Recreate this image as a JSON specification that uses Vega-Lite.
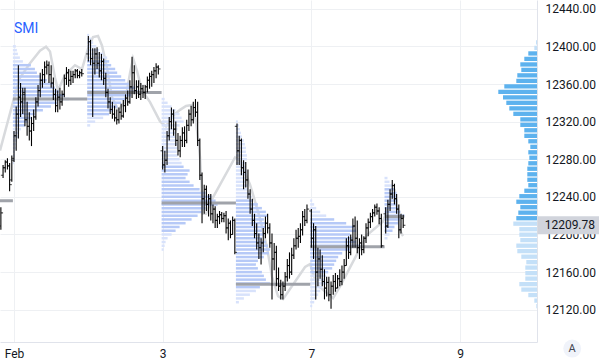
{
"$schema": "https://vega.github.io/schema/vega-lite/v6.json",
"width": 537, "height": 342,
"autosize": {"type": "none"},
"padding": {"left": 0, "top": 0, "right": 62, "bottom": 22},
"background": "white",
"config": {"view": {"stroke": null}, "font": "Roboto",
  "axis": {"gridColor": "#eef0f3", "domainColor": "#e0e3eb", "ticks": false, "labelColor": "#131722", "labelFontSize": 12, "labelFont": "Roboto", "labelOverlap": false, "labelBound": false}},
"datasets": {
"bars": [
{"t":-6,"o":12209,"h":12229,"l":12205,"c":12223},
{"t":-5,"o":12263,"h":12274,"l":12260,"c":12271},
{"t":-4,"o":12271,"h":12279,"l":12266,"c":12277},
{"t":-3,"o":12277,"h":12281,"l":12269,"c":12273},
{"t":-2,"o":12273,"h":12276,"l":12246,"c":12253},
{"t":-1,"o":12258,"h":12284,"l":12256,"c":12279},
{"t":0,"o":12281,"h":12310,"l":12277,"c":12305},
{"t":1,"o":12305,"h":12336,"l":12289,"c":12328},
{"t":2,"o":12328,"h":12380,"l":12302,"c":12346},
{"t":3,"o":12346,"h":12361,"l":12325,"c":12341},
{"t":4,"o":12341,"h":12356,"l":12328,"c":12351},
{"t":5,"o":12349,"h":12356,"l":12315,"c":12322},
{"t":6,"o":12322,"h":12341,"l":12305,"c":12315},
{"t":7,"o":12315,"h":12330,"l":12300,"c":12310},
{"t":8,"o":12310,"h":12325,"l":12294,"c":12318},
{"t":9,"o":12318,"h":12333,"l":12310,"c":12325},
{"t":10,"o":12325,"h":12346,"l":12322,"c":12341},
{"t":11,"o":12341,"h":12359,"l":12336,"c":12353},
{"t":12,"o":12353,"h":12372,"l":12346,"c":12364},
{"t":13,"o":12364,"h":12376,"l":12356,"c":12370},
{"t":14,"o":12370,"h":12384,"l":12361,"c":12378},
{"t":15,"o":12378,"h":12385,"l":12370,"c":12380},
{"t":16,"o":12380,"h":12384,"l":12361,"c":12370},
{"t":17,"o":12370,"h":12380,"l":12356,"c":12361},
{"t":18,"o":12361,"h":12367,"l":12343,"c":12349},
{"t":19,"o":12349,"h":12355,"l":12330,"c":12337},
{"t":20,"o":12337,"h":12353,"l":12330,"c":12346},
{"t":21,"o":12346,"h":12356,"l":12333,"c":12341},
{"t":22,"o":12341,"h":12353,"l":12337,"c":12349},
{"t":23,"o":12349,"h":12370,"l":12346,"c":12366},
{"t":24,"o":12366,"h":12378,"l":12359,"c":12372},
{"t":25,"o":12372,"h":12376,"l":12357,"c":12364},
{"t":26,"o":12364,"h":12374,"l":12359,"c":12368},
{"t":27,"o":12368,"h":12374,"l":12361,"c":12370},
{"t":28,"o":12370,"h":12376,"l":12366,"c":12374},
{"t":29,"o":12374,"h":12376,"l":12366,"c":12369},
{"t":30,"o":12369,"h":12374,"l":12366,"c":12372},
{"t":31,"o":12372,"h":12376,"l":12368,"c":12371},
{"t":34,"o":12392,"h":12411,"l":12384,"c":12405},
{"t":35,"o":12405,"h":12407,"l":12380,"c":12387},
{"t":36,"o":12387,"h":12398,"l":12325,"c":12382},
{"t":37,"o":12382,"h":12398,"l":12370,"c":12392},
{"t":38,"o":12392,"h":12399,"l":12376,"c":12382},
{"t":39,"o":12382,"h":12394,"l":12367,"c":12374},
{"t":40,"o":12374,"h":12392,"l":12364,"c":12384},
{"t":41,"o":12384,"h":12387,"l":12359,"c":12366},
{"t":42,"o":12366,"h":12372,"l":12346,"c":12351},
{"t":43,"o":12351,"h":12355,"l":12334,"c":12341},
{"t":44,"o":12341,"h":12346,"l":12328,"c":12333},
{"t":45,"o":12333,"h":12341,"l":12323,"c":12328},
{"t":46,"o":12328,"h":12337,"l":12320,"c":12324},
{"t":47,"o":12324,"h":12333,"l":12317,"c":12322},
{"t":48,"o":12322,"h":12335,"l":12318,"c":12330},
{"t":49,"o":12330,"h":12339,"l":12322,"c":12326},
{"t":50,"o":12326,"h":12343,"l":12324,"c":12337},
{"t":51,"o":12337,"h":12349,"l":12330,"c":12345},
{"t":52,"o":12345,"h":12353,"l":12337,"c":12341},
{"t":53,"o":12341,"h":12364,"l":12339,"c":12357},
{"t":54,"o":12357,"h":12389,"l":12345,"c":12372},
{"t":55,"o":12372,"h":12380,"l":12349,"c":12353},
{"t":56,"o":12353,"h":12364,"l":12344,"c":12357},
{"t":57,"o":12357,"h":12364,"l":12345,"c":12349},
{"t":58,"o":12349,"h":12361,"l":12343,"c":12355},
{"t":59,"o":12355,"h":12359,"l":12345,"c":12351},
{"t":60,"o":12351,"h":12359,"l":12344,"c":12357},
{"t":61,"o":12357,"h":12368,"l":12351,"c":12364},
{"t":62,"o":12364,"h":12372,"l":12355,"c":12368},
{"t":63,"o":12368,"h":12374,"l":12357,"c":12370},
{"t":64,"o":12370,"h":12378,"l":12361,"c":12374},
{"t":65,"o":12374,"h":12382,"l":12366,"c":12378},
{"t":66,"o":12378,"h":12380,"l":12370,"c":12376},
{"t":68,"o":12289,"h":12294,"l":12269,"c":12274},
{"t":69,"o":12274,"h":12289,"l":12266,"c":12279},
{"t":70,"o":12279,"h":12310,"l":12274,"c":12305},
{"t":71,"o":12305,"h":12325,"l":12300,"c":12320},
{"t":72,"o":12320,"h":12335,"l":12312,"c":12328},
{"t":73,"o":12328,"h":12333,"l":12305,"c":12312},
{"t":74,"o":12312,"h":12320,"l":12294,"c":12300},
{"t":75,"o":12300,"h":12308,"l":12284,"c":12289},
{"t":76,"o":12289,"h":12305,"l":12282,"c":12300},
{"t":77,"o":12300,"h":12314,"l":12293,"c":12308},
{"t":78,"o":12308,"h":12315,"l":12293,"c":12300},
{"t":79,"o":12300,"h":12322,"l":12297,"c":12316},
{"t":80,"o":12316,"h":12333,"l":12310,"c":12328},
{"t":81,"o":12328,"h":12337,"l":12315,"c":12322},
{"t":82,"o":12322,"h":12341,"l":12318,"c":12335},
{"t":83,"o":12335,"h":12344,"l":12325,"c":12330},
{"t":84,"o":12330,"h":12341,"l":12294,"c":12300},
{"t":85,"o":12300,"h":12302,"l":12258,"c":12263},
{"t":86,"o":12263,"h":12266,"l":12212,"c":12238},
{"t":87,"o":12238,"h":12253,"l":12222,"c":12248},
{"t":88,"o":12248,"h":12252,"l":12225,"c":12232},
{"t":89,"o":12232,"h":12243,"l":12219,"c":12238},
{"t":90,"o":12238,"h":12243,"l":12215,"c":12222},
{"t":91,"o":12222,"h":12232,"l":12212,"c":12227},
{"t":92,"o":12227,"h":12230,"l":12207,"c":12215},
{"t":93,"o":12215,"h":12222,"l":12207,"c":12219},
{"t":94,"o":12219,"h":12225,"l":12211,"c":12221},
{"t":95,"o":12221,"h":12224,"l":12213,"c":12217},
{"t":96,"o":12217,"h":12223,"l":12213,"c":12220},
{"t":97,"o":12220,"h":12225,"l":12201,"c":12207},
{"t":98,"o":12207,"h":12217,"l":12194,"c":12212},
{"t":99,"o":12212,"h":12215,"l":12196,"c":12200},
{"t":100,"o":12200,"h":12219,"l":12200,"c":12215},
{"t":101,"o":12215,"h":12217,"l":12179,"c":12181},
{"t":102,"o":12315,"h":12318,"l":12274,"c":12289},
{"t":103,"o":12289,"h":12305,"l":12274,"c":12300},
{"t":104,"o":12300,"h":12302,"l":12263,"c":12271},
{"t":105,"o":12271,"h":12279,"l":12248,"c":12266},
{"t":106,"o":12266,"h":12277,"l":12250,"c":12258},
{"t":107,"o":12258,"h":12269,"l":12238,"c":12243},
{"t":108,"o":12243,"h":12248,"l":12222,"c":12227},
{"t":109,"o":12227,"h":12238,"l":12209,"c":12215},
{"t":110,"o":12215,"h":12222,"l":12196,"c":12201},
{"t":111,"o":12201,"h":12212,"l":12184,"c":12191},
{"t":112,"o":12191,"h":12201,"l":12174,"c":12186},
{"t":113,"o":12186,"h":12196,"l":12168,"c":12191},
{"t":114,"o":12191,"h":12207,"l":12181,"c":12201},
{"t":115,"o":12201,"h":12219,"l":12196,"c":12212},
{"t":116,"o":12212,"h":12222,"l":12201,"c":12207},
{"t":117,"o":12207,"h":12212,"l":12186,"c":12191},
{"t":118,"o":12191,"h":12201,"l":12131,"c":12174},
{"t":119,"o":12174,"h":12191,"l":12162,"c":12181},
{"t":120,"o":12181,"h":12188,"l":12145,"c":12153},
{"t":121,"o":12153,"h":12165,"l":12140,"c":12145},
{"t":122,"o":12145,"h":12152,"l":12131,"c":12136},
{"t":123,"o":12136,"h":12150,"l":12131,"c":12145},
{"t":124,"o":12145,"h":12160,"l":12140,"c":12155},
{"t":125,"o":12155,"h":12174,"l":12150,"c":12167},
{"t":126,"o":12167,"h":12181,"l":12153,"c":12160},
{"t":127,"o":12160,"h":12186,"l":12157,"c":12178},
{"t":128,"o":12178,"h":12196,"l":12174,"c":12188},
{"t":129,"o":12188,"h":12205,"l":12184,"c":12196},
{"t":130,"o":12196,"h":12207,"l":12186,"c":12198},
{"t":131,"o":12198,"h":12212,"l":12191,"c":12205},
{"t":132,"o":12205,"h":12225,"l":12199,"c":12219},
{"t":133,"o":12219,"h":12227,"l":12209,"c":12215},
{"t":134,"o":12215,"h":12232,"l":12212,"c":12227},
{"t":136,"o":12225,"h":12227,"l":12186,"c":12196},
{"t":137,"o":12196,"h":12212,"l":12174,"c":12205},
{"t":138,"o":12205,"h":12209,"l":12131,"c":12160},
{"t":139,"o":12160,"h":12186,"l":12145,"c":12174},
{"t":140,"o":12174,"h":12184,"l":12153,"c":12163},
{"t":141,"o":12163,"h":12178,"l":12145,"c":12150},
{"t":142,"o":12150,"h":12163,"l":12131,"c":12143},
{"t":143,"o":12143,"h":12155,"l":12134,"c":12149},
{"t":144,"o":12149,"h":12155,"l":12129,"c":12136},
{"t":145,"o":12136,"h":12150,"l":12121,"c":12145},
{"t":146,"o":12145,"h":12157,"l":12136,"c":12150},
{"t":147,"o":12150,"h":12159,"l":12139,"c":12143},
{"t":148,"o":12143,"h":12157,"l":12143,"c":12153},
{"t":149,"o":12153,"h":12163,"l":12145,"c":12150},
{"t":150,"o":12150,"h":12167,"l":12146,"c":12160},
{"t":151,"o":12160,"h":12174,"l":12153,"c":12167},
{"t":152,"o":12167,"h":12196,"l":12167,"c":12188},
{"t":153,"o":12188,"h":12198,"l":12174,"c":12181},
{"t":154,"o":12181,"h":12200,"l":12178,"c":12194},
{"t":155,"o":12194,"h":12217,"l":12186,"c":12209},
{"t":156,"o":12209,"h":12219,"l":12186,"c":12196},
{"t":157,"o":12196,"h":12215,"l":12180,"c":12186},
{"t":158,"o":12186,"h":12196,"l":12174,"c":12191},
{"t":159,"o":12191,"h":12200,"l":12178,"c":12184},
{"t":160,"o":12184,"h":12198,"l":12180,"c":12196},
{"t":161,"o":12196,"h":12212,"l":12191,"c":12207},
{"t":162,"o":12207,"h":12217,"l":12198,"c":12213},
{"t":163,"o":12213,"h":12223,"l":12207,"c":12219},
{"t":164,"o":12219,"h":12227,"l":12213,"c":12223},
{"t":165,"o":12223,"h":12232,"l":12219,"c":12229},
{"t":166,"o":12229,"h":12233,"l":12221,"c":12225},
{"t":167,"o":12225,"h":12229,"l":12211,"c":12217},
{"t":168,"o":12217,"h":12222,"l":12186,"c":12188},
{"t":170,"o":12222,"h":12229,"l":12201,"c":12209},
{"t":171,"o":12209,"h":12237,"l":12207,"c":12232},
{"t":172,"o":12232,"h":12248,"l":12225,"c":12243},
{"t":173,"o":12243,"h":12258,"l":12238,"c":12252},
{"t":174,"o":12252,"h":12254,"l":12232,"c":12238},
{"t":175,"o":12238,"h":12243,"l":12222,"c":12227},
{"t":176,"o":12227,"h":12232,"l":12196,"c":12205},
{"t":177,"o":12205,"h":12222,"l":12201,"c":12217},
{"t":178,"o":12217,"h":12221,"l":12207,"c":12209.78}
],
"prof": [
{"s":1,"p":12400,"v":3},{"s":1,"p":12396,"v":4},{"s":1,"p":12392,"v":5},{"s":1,"p":12388,"v":7},{"s":1,"p":12384,"v":10},{"s":1,"p":12380,"v":18},{"s":1,"p":12376,"v":22},{"s":1,"p":12372,"v":24},{"s":1,"p":12368,"v":28},{"s":1,"p":12364,"v":34},{"s":1,"p":12360,"v":40},{"s":1,"p":12356,"v":42},{"s":1,"p":12352,"v":46},{"s":1,"p":12348,"v":52},{"s":1,"p":12344,"v":56},{"s":1,"p":12340,"v":44},{"s":1,"p":12336,"v":38},{"s":1,"p":12332,"v":30},{"s":1,"p":12328,"v":22},{"s":1,"p":12324,"v":18},{"s":1,"p":12320,"v":15},{"s":1,"p":12316,"v":12},{"s":1,"p":12312,"v":8},{"s":1,"p":12308,"v":6},{"s":1,"p":12304,"v":5},{"s":1,"p":12300,"v":4},{"s":1,"p":12296,"v":3},{"s":1,"p":12292,"v":3},{"s":1,"p":12288,"v":2},{"s":1,"p":12284,"v":2},{"s":1,"p":12280,"v":2},{"s":1,"p":12276,"v":1},
{"s":2,"p":12412,"v":2},{"s":2,"p":12408,"v":4},{"s":2,"p":12404,"v":6},{"s":2,"p":12400,"v":9},{"s":2,"p":12396,"v":12},{"s":2,"p":12392,"v":16},{"s":2,"p":12388,"v":20},{"s":2,"p":12384,"v":22},{"s":2,"p":12380,"v":24},{"s":2,"p":12376,"v":28},{"s":2,"p":12372,"v":30},{"s":2,"p":12368,"v":34},{"s":2,"p":12364,"v":38},{"s":2,"p":12360,"v":42},{"s":2,"p":12356,"v":48},{"s":2,"p":12352,"v":52},{"s":2,"p":12348,"v":44},{"s":2,"p":12344,"v":38},{"s":2,"p":12340,"v":34},{"s":2,"p":12336,"v":30},{"s":2,"p":12332,"v":26},{"s":2,"p":12328,"v":22},{"s":2,"p":12324,"v":16},{"s":2,"p":12320,"v":8},{"s":2,"p":12316,"v":3},
{"s":3,"p":12344,"v":3},{"s":3,"p":12340,"v":6},{"s":3,"p":12336,"v":10},{"s":3,"p":12332,"v":14},{"s":3,"p":12328,"v":18},{"s":3,"p":12324,"v":20},{"s":3,"p":12320,"v":22},{"s":3,"p":12316,"v":18},{"s":3,"p":12312,"v":16},{"s":3,"p":12308,"v":14},{"s":3,"p":12304,"v":14},{"s":3,"p":12300,"v":15},{"s":3,"p":12296,"v":16},{"s":3,"p":12292,"v":16},{"s":3,"p":12288,"v":15},{"s":3,"p":12284,"v":16},{"s":3,"p":12280,"v":18},{"s":3,"p":12276,"v":20},{"s":3,"p":12272,"v":22},{"s":3,"p":12268,"v":28},{"s":3,"p":12264,"v":26},{"s":3,"p":12260,"v":24},{"s":3,"p":12256,"v":28},{"s":3,"p":12252,"v":32},{"s":3,"p":12248,"v":38},{"s":3,"p":12244,"v":44},{"s":3,"p":12240,"v":50},{"s":3,"p":12236,"v":54},{"s":3,"p":12232,"v":56},{"s":3,"p":12228,"v":44},{"s":3,"p":12224,"v":40},{"s":3,"p":12220,"v":36},{"s":3,"p":12216,"v":30},{"s":3,"p":12212,"v":24},{"s":3,"p":12208,"v":18},{"s":3,"p":12204,"v":14},{"s":3,"p":12200,"v":10},{"s":3,"p":12196,"v":6},{"s":3,"p":12192,"v":4},{"s":3,"p":12188,"v":3},{"s":3,"p":12184,"v":2},
{"s":4,"p":12320,"v":2},{"s":4,"p":12316,"v":3},{"s":4,"p":12312,"v":4},{"s":4,"p":12308,"v":5},{"s":4,"p":12304,"v":6},{"s":4,"p":12300,"v":8},{"s":4,"p":12296,"v":9},{"s":4,"p":12292,"v":10},{"s":4,"p":12288,"v":10},{"s":4,"p":12284,"v":11},{"s":4,"p":12280,"v":11},{"s":4,"p":12276,"v":10},{"s":4,"p":12272,"v":10},{"s":4,"p":12268,"v":11},{"s":4,"p":12264,"v":11},{"s":4,"p":12260,"v":9},{"s":4,"p":12256,"v":10},{"s":4,"p":12252,"v":12},{"s":4,"p":12248,"v":12},{"s":4,"p":12244,"v":14},{"s":4,"p":12240,"v":16},{"s":4,"p":12236,"v":17},{"s":4,"p":12232,"v":22},{"s":4,"p":12228,"v":26},{"s":4,"p":12224,"v":30},{"s":4,"p":12220,"v":32},{"s":4,"p":12216,"v":28},{"s":4,"p":12212,"v":29},{"s":4,"p":12208,"v":30},{"s":4,"p":12204,"v":26},{"s":4,"p":12200,"v":28},{"s":4,"p":12196,"v":26},{"s":4,"p":12192,"v":30},{"s":4,"p":12188,"v":32},{"s":4,"p":12184,"v":34},{"s":4,"p":12180,"v":33},{"s":4,"p":12176,"v":28},{"s":4,"p":12172,"v":22},{"s":4,"p":12168,"v":20},{"s":4,"p":12164,"v":22},{"s":4,"p":12160,"v":26},{"s":4,"p":12156,"v":28},{"s":4,"p":12152,"v":30},{"s":4,"p":12148,"v":34},{"s":4,"p":12144,"v":24},{"s":4,"p":12140,"v":20},{"s":4,"p":12136,"v":14},{"s":4,"p":12132,"v":8},{"s":4,"p":12128,"v":3},
{"s":5,"p":12236,"v":2},{"s":5,"p":12232,"v":4},{"s":5,"p":12228,"v":6},{"s":5,"p":12224,"v":10},{"s":5,"p":12220,"v":16},{"s":5,"p":12216,"v":24},{"s":5,"p":12212,"v":36},{"s":5,"p":12208,"v":44},{"s":5,"p":12204,"v":46},{"s":5,"p":12200,"v":40},{"s":5,"p":12196,"v":42},{"s":5,"p":12192,"v":46},{"s":5,"p":12188,"v":50},{"s":5,"p":12184,"v":40},{"s":5,"p":12180,"v":32},{"s":5,"p":12176,"v":28},{"s":5,"p":12172,"v":26},{"s":5,"p":12168,"v":24},{"s":5,"p":12164,"v":22},{"s":5,"p":12160,"v":18},{"s":5,"p":12156,"v":16},{"s":5,"p":12152,"v":14},{"s":5,"p":12148,"v":16},{"s":5,"p":12144,"v":12},{"s":5,"p":12140,"v":10},{"s":5,"p":12136,"v":8},{"s":5,"p":12132,"v":6},{"s":5,"p":12128,"v":4},{"s":5,"p":12124,"v":2},
{"s":6,"p":12260,"v":3},{"s":6,"p":12256,"v":5},{"s":6,"p":12252,"v":8},{"s":6,"p":12248,"v":10},{"s":6,"p":12244,"v":12},{"s":6,"p":12240,"v":12},{"s":6,"p":12236,"v":13},{"s":6,"p":12232,"v":12},{"s":6,"p":12228,"v":14},{"s":6,"p":12224,"v":16},{"s":6,"p":12220,"v":20},{"s":6,"p":12216,"v":16},{"s":6,"p":12212,"v":14},{"s":6,"p":12208,"v":10},{"s":6,"p":12204,"v":8},{"s":6,"p":12200,"v":5},{"s":6,"p":12196,"v":3}
],
"vp": [
{"p":12404.2,"v":1},{"p":12398.4,"v":2.7},{"p":12392.5,"v":8.7},{"p":12386.7,"v":12.7},{"p":12380.8,"v":16.7},{"p":12375.0,"v":15.7},{"p":12369.2,"v":19.7},{"p":12363.3,"v":20.7},{"p":12357.5,"v":32.7},{"p":12351.6,"v":38.7},{"p":12345.8,"v":34},{"p":12340.0,"v":30.7},{"p":12334.1,"v":27.7},{"p":12328.3,"v":23.7},{"p":12322.4,"v":16.7},{"p":12316.6,"v":16.7},{"p":12310.8,"v":12.7},{"p":12304.9,"v":12.7},{"p":12299.1,"v":8.7},{"p":12293.2,"v":6.7},{"p":12287.4,"v":8.7},{"p":12281.6,"v":7.7},{"p":12275.7,"v":8.7},{"p":12269.9,"v":9.7},{"p":12264.0,"v":9.7},{"p":12258.2,"v":9.7},{"p":12252.4,"v":8.7},{"p":12246.5,"v":12.7},{"p":12240.7,"v":17.7},{"p":12234.8,"v":20.7},{"p":12229.0,"v":16.7},{"p":12223.2,"v":18.7},{"p":12217.3,"v":20.7},{"p":12211.5,"v":23.7},{"p":12205.6,"v":17.7},{"p":12199.8,"v":17.7},{"p":12194.0,"v":16.7},{"p":12188.1,"v":20.7},{"p":12182.3,"v":19.7},{"p":12176.4,"v":15.7},{"p":12170.6,"v":10.7},{"p":12164.8,"v":11.7},{"p":12158.9,"v":11.7},{"p":12153.1,"v":11.7},{"p":12147.2,"v":17.7},{"p":12141.4,"v":15.7},{"p":12135.6,"v":8.7},{"p":12129.7,"v":2.7},{"p":12123.9,"v":0.7}
],
"poc": [
{"a":-34.5,"b":-0.5,"p":12236},{"a":-0.5,"b":33.5,"p":12344},{"a":33.5,"b":67.5,"p":12351},{"a":67.5,"b":101.5,"p":12233.5},{"a":101.5,"b":135.5,"p":12147},{"a":135.5,"b":169.5,"p":12187},{"a":169.5,"b":178.5,"p":12219}
],
"gl": [
{"t":-6.4,"p":12289.2},{"t":-0.46,"p":12340.8},{"t":2.74,"p":12366.6},{"t":7.32,"p":12382.1},{"t":11.89,"p":12395.5},{"t":14.64,"p":12399.6},{"t":16.47,"p":12394.5},{"t":18.76,"p":12366.6},{"t":20.13,"p":12353.2},{"t":23.33,"p":12369.7},{"t":27.9,"p":12380},{"t":31.1,"p":12375.9},{"t":33.85,"p":12397.6},{"t":36.14,"p":12409.9},{"t":38.43,"p":12411},{"t":40.26,"p":12400.7},{"t":42.54,"p":12376.9},{"t":44.83,"p":12346},{"t":47.58,"p":12332.5},{"t":50.78,"p":12340.8},{"t":53.07,"p":12371.8},{"t":54.44,"p":12387.2},{"t":56.27,"p":12373.8},{"t":58.55,"p":12353.2},{"t":62.21,"p":12340.8},{"t":66.79,"p":12320.2},{"t":69.53,"p":12315},{"t":72.28,"p":12325.3},{"t":75.94,"p":12332.5},{"t":78.68,"p":12336.7},{"t":81.43,"p":12337.7},{"t":83.26,"p":12320.2},{"t":85.09,"p":12282},{"t":86.46,"p":12222.1},{"t":87.83,"p":12222.1},{"t":90.58,"p":12237.6},{"t":101.1,"p":12282},{"t":103.39,"p":12278.9},{"t":107.96,"p":12253.1},{"t":112.53,"p":12217},{"t":115.74,"p":12186},{"t":118.02,"p":12155},{"t":120.77,"p":12134.4},{"t":123.06,"p":12131.3},{"t":133.12,"p":12165.4},{"t":135.41,"p":12168.5},{"t":138.61,"p":12146.8},{"t":143.18,"p":12137.5},{"t":145.93,"p":12132.3},{"t":149.13,"p":12144.7},{"t":151.42,"p":12155},{"t":161.48,"p":12199.4},{"t":168.8,"p":12213.9},{"t":172,"p":12234.5},{"t":174.29,"p":12244.8},{"t":176.58,"p":12203.5},{"t":177.96,"p":12198.4}
],
"marks": [
{"label": "SMI", "t": 0, "p": 12418}
],
"lastp": [
{"t": 239.4, "tt": 242.7, "last": 12209.78}
],
"abtn": [
{"k": "A", "t": 255.3, "p": 12078.7}
]
},
"resolve": {"scale": {"x": "independent"}},
"layer": [
{"data": {"name": "gl"}, "mark": {"type": "line", "color": "#d8dadd", "strokeWidth": 2.5},
 "encoding": {
  "x": {"field": "t", "type": "quantitative", "scale": {"domain": [-6.4, 239.2], "nice": false, "zero": false},
    "axis": {"values": [0, 68, 136, 204], "labelExpr": "datum.value == 0 ? 'Feb' : datum.value == 68 ? '3' : datum.value == 136 ? '7' : '9'", "grid": true, "labelPadding": 6, "labelFlush": false, "title": null}},
  "y": {"field": "p", "type": "quantitative", "scale": {"domain": [12091, 12444], "nice": false, "zero": false},
    "axis": {"orient": "right", "values": [12120, 12160, 12200, 12240, 12280, 12320, 12360, 12400, 12440], "format": ".2f", "grid": true, "labelPadding": 8, "title": null}}}},
{"data": {"name": "prof"}, "transform": [{"filter": "datum.s == 1"}], "mark": {"type": "bar", "orient": "horizontal", "size": 2.5},
 "encoding": {"y": {"field": "p", "type": "quantitative", "scale": {"domain": [12091, 12444], "nice": false, "zero": false}, "axis": {"orient": "right", "values": [12120, 12160, 12200, 12240, 12280, 12320, 12360, 12400, 12440], "format": ".2f", "grid": true, "labelPadding": 8, "title": null}},
  "x": {"field": "v", "type": "quantitative", "scale": {"domain": [-12.9, 524.1], "nice": false, "zero": false}, "axis": null},
  "color": {"condition": {"test": "datum.p >= 12316 && datum.p <= 12380", "value": "#b6c9f7"}, "value": "#d8e2fb"}}},
{"data": {"name": "prof"}, "transform": [{"filter": "datum.s == 2"}], "mark": {"type": "bar", "orient": "horizontal", "size": 2.5},
 "encoding": {"y": {"field": "p", "type": "quantitative", "scale": {"domain": [12091, 12444], "nice": false, "zero": false}, "axis": {"orient": "right", "values": [12120, 12160, 12200, 12240, 12280, 12320, 12360, 12400, 12440], "format": ".2f", "grid": true, "labelPadding": 8, "title": null}},
  "x": {"field": "v", "type": "quantitative", "scale": {"domain": [-87.2, 449.8], "nice": false, "zero": false}, "axis": null},
  "color": {"condition": {"test": "datum.p >= 12328 && datum.p <= 12384", "value": "#b6c9f7"}, "value": "#d8e2fb"}}},
{"data": {"name": "prof"}, "transform": [{"filter": "datum.s == 3"}], "mark": {"type": "bar", "orient": "horizontal", "size": 2.5},
 "encoding": {"y": {"field": "p", "type": "quantitative", "scale": {"domain": [12091, 12444], "nice": false, "zero": false}, "axis": {"orient": "right", "values": [12120, 12160, 12200, 12240, 12280, 12320, 12360, 12400, 12440], "format": ".2f", "grid": true, "labelPadding": 8, "title": null}},
  "x": {"field": "v", "type": "quantitative", "scale": {"domain": [-161.6, 375.4], "nice": false, "zero": false}, "axis": null},
  "color": {"condition": {"test": "datum.p >= 12204 && datum.p <= 12272", "value": "#b6c9f7"}, "value": "#d8e2fb"}}},
{"data": {"name": "prof"}, "transform": [{"filter": "datum.s == 4"}], "mark": {"type": "bar", "orient": "horizontal", "size": 2.5},
 "encoding": {"y": {"field": "p", "type": "quantitative", "scale": {"domain": [12091, 12444], "nice": false, "zero": false}, "axis": {"orient": "right", "values": [12120, 12160, 12200, 12240, 12280, 12320, 12360, 12400, 12440], "format": ".2f", "grid": true, "labelPadding": 8, "title": null}},
  "x": {"field": "v", "type": "quantitative", "scale": {"domain": [-235.9, 301.1], "nice": false, "zero": false}, "axis": null},
  "color": {"condition": {"test": "datum.p >= 12144 && datum.p <= 12236", "value": "#b6c9f7"}, "value": "#d8e2fb"}}},
{"data": {"name": "prof"}, "transform": [{"filter": "datum.s == 5"}], "mark": {"type": "bar", "orient": "horizontal", "size": 2.5},
 "encoding": {"y": {"field": "p", "type": "quantitative", "scale": {"domain": [12091, 12444], "nice": false, "zero": false}, "axis": {"orient": "right", "values": [12120, 12160, 12200, 12240, 12280, 12320, 12360, 12400, 12440], "format": ".2f", "grid": true, "labelPadding": 8, "title": null}},
  "x": {"field": "v", "type": "quantitative", "scale": {"domain": [-310.2, 226.8], "nice": false, "zero": false}, "axis": null},
  "color": {"condition": {"test": "datum.p >= 12160 && datum.p <= 12216", "value": "#b6c9f7"}, "value": "#d8e2fb"}}},
{"data": {"name": "prof"}, "transform": [{"filter": "datum.s == 6"}], "mark": {"type": "bar", "orient": "horizontal", "size": 2.5},
 "encoding": {"y": {"field": "p", "type": "quantitative", "scale": {"domain": [12091, 12444], "nice": false, "zero": false}, "axis": {"orient": "right", "values": [12120, 12160, 12200, 12240, 12280, 12320, 12360, 12400, 12440], "format": ".2f", "grid": true, "labelPadding": 8, "title": null}},
  "x": {"field": "v", "type": "quantitative", "scale": {"domain": [-384.5, 152.5], "nice": false, "zero": false}, "axis": null},
  "color": {"condition": {"test": "datum.p >= 12204 && datum.p <= 12248", "value": "#b6c9f7"}, "value": "#d8e2fb"}}},
{"data": {"name": "vp"}, "mark": {"type": "bar", "orient": "horizontal", "size": 4.3},
 "encoding": {"y": {"field": "p", "type": "quantitative", "scale": {"domain": [12091, 12444], "nice": false, "zero": false}, "axis": {"orient": "right", "values": [12120, 12160, 12200, 12240, 12280, 12320, 12360, 12400, 12440], "format": ".2f", "grid": true, "labelPadding": 8, "title": null}},
  "x": {"field": "v", "type": "quantitative", "scale": {"domain": [0, 537], "reverse": true, "nice": false, "zero": true}, "axis": null},
  "color": {"condition": {"test": "datum.p > 12214 && datum.p < 12396", "value": "#5db2ee"}, "value": "#c4e0f8"}}},
{"data": {"name": "poc"}, "mark": {"type": "rule", "color": "#a0a3aa", "strokeWidth": 3, "clip": true},
 "encoding": {"x": {"field": "a", "type": "quantitative", "scale": {"domain": [-6.4, 239.2], "nice": false, "zero": false}, "axis": null}, "x2": {"field": "b"},
  "y": {"field": "p", "type": "quantitative", "scale": {"domain": [12091, 12444], "nice": false, "zero": false}, "axis": {"orient": "right", "values": [12120, 12160, 12200, 12240, 12280, 12320, 12360, 12400, 12440], "format": ".2f", "grid": true, "labelPadding": 8, "title": null}}}},
{"data": {"name": "bars"}, "mark": {"type": "rule", "color": "#000000", "strokeWidth": 1.1},
 "encoding": {"x": {"field": "t", "type": "quantitative", "scale": {"domain": [-6.4, 239.2], "nice": false, "zero": false}, "axis": null},
  "y": {"field": "l", "type": "quantitative", "scale": {"domain": [12091, 12444], "nice": false, "zero": false}, "axis": {"orient": "right", "values": [12120, 12160, 12200, 12240, 12280, 12320, 12360, 12400, 12440], "format": ".2f", "grid": true, "labelPadding": 8, "title": null}}, "y2": {"field": "h"}}},
{"data": {"name": "bars"}, "mark": {"type": "tick", "orient": "horizontal", "color": "#000000", "size": 2.2, "thickness": 1.1, "xOffset": -1.1},
 "encoding": {"x": {"field": "t", "type": "quantitative", "scale": {"domain": [-6.4, 239.2], "nice": false, "zero": false}, "axis": null},
  "y": {"field": "o", "type": "quantitative", "scale": {"domain": [12091, 12444], "nice": false, "zero": false}, "axis": {"orient": "right", "values": [12120, 12160, 12200, 12240, 12280, 12320, 12360, 12400, 12440], "format": ".2f", "grid": true, "labelPadding": 8, "title": null}}}},
{"data": {"name": "bars"}, "mark": {"type": "tick", "orient": "horizontal", "color": "#000000", "size": 2.2, "thickness": 1.1, "xOffset": 1.1},
 "encoding": {"x": {"field": "t", "type": "quantitative", "scale": {"domain": [-6.4, 239.2], "nice": false, "zero": false}, "axis": null},
  "y": {"field": "c", "type": "quantitative", "scale": {"domain": [12091, 12444], "nice": false, "zero": false}, "axis": {"orient": "right", "values": [12120, 12160, 12200, 12240, 12280, 12320, 12360, 12400, 12440], "format": ".2f", "grid": true, "labelPadding": 8, "title": null}}}},
{"data": {"name": "marks"}, "mark": {"type": "text", "align": "left", "baseline": "middle", "fontSize": 14, "color": "#2962ff", "font": "Roboto"},
 "encoding": {"text": {"field": "label", "type": "nominal"}, "x": {"field": "t", "type": "quantitative", "scale": {"domain": [-6.4, 239.2], "nice": false, "zero": false}, "axis": null},
  "y": {"field": "p", "type": "quantitative", "scale": {"domain": [12091, 12444], "nice": false, "zero": false}, "axis": {"orient": "right", "values": [12120, 12160, 12200, 12240, 12280, 12320, 12360, 12400, 12440], "format": ".2f", "grid": true, "labelPadding": 8, "title": null}}}},
{"data": {"name": "lastp"}, "mark": {"type": "point", "shape": "M0,-0.29H2V0.29H0Z", "filled": true, "size": 3844, "color": "#d1d4dc", "opacity": 1},
 "encoding": {"x": {"field": "t", "type": "quantitative", "scale": {"domain": [-6.4, 239.2], "nice": false, "zero": false}, "axis": null},
  "y": {"field": "last", "type": "quantitative", "scale": {"domain": [12091, 12444], "nice": false, "zero": false}, "axis": {"orient": "right", "values": [12120, 12160, 12200, 12240, 12280, 12320, 12360, 12400, 12440], "format": ".2f", "grid": true, "labelPadding": 8, "title": null}}}},
{"data": {"name": "lastp"}, "mark": {"type": "text", "align": "left", "baseline": "middle", "fontSize": 12, "color": "#131722", "font": "Roboto"},
 "encoding": {"text": {"field": "last", "type": "quantitative", "format": ".2f"}, "x": {"field": "tt", "type": "quantitative", "scale": {"domain": [-6.4, 239.2], "nice": false, "zero": false}, "axis": null},
  "y": {"field": "last", "type": "quantitative", "scale": {"domain": [12091, 12444], "nice": false, "zero": false}, "axis": {"orient": "right", "values": [12120, 12160, 12200, 12240, 12280, 12320, 12360, 12400, 12440], "format": ".2f", "grid": true, "labelPadding": 8, "title": null}}}},
{"data": {"name": "abtn"}, "mark": {"type": "point", "filled": true, "size": 320, "color": "#f0f3fa", "opacity": 1},
 "encoding": {"x": {"field": "t", "type": "quantitative", "scale": {"domain": [-6.4, 239.2], "nice": false, "zero": false}, "axis": null},
  "y": {"field": "p", "type": "quantitative", "scale": {"domain": [12091, 12444], "nice": false, "zero": false}, "axis": {"orient": "right", "values": [12120, 12160, 12200, 12240, 12280, 12320, 12360, 12400, 12440], "format": ".2f", "grid": true, "labelPadding": 8, "title": null}}}},
{"data": {"name": "abtn"}, "mark": {"type": "text", "align": "center", "baseline": "middle", "fontSize": 11, "color": "#434651", "font": "Roboto"},
 "encoding": {"text": {"field": "k", "type": "nominal"}, "x": {"field": "t", "type": "quantitative", "scale": {"domain": [-6.4, 239.2], "nice": false, "zero": false}, "axis": null},
  "y": {"field": "p", "type": "quantitative", "scale": {"domain": [12091, 12444], "nice": false, "zero": false}, "axis": {"orient": "right", "values": [12120, 12160, 12200, 12240, 12280, 12320, 12360, 12400, 12440], "format": ".2f", "grid": true, "labelPadding": 8, "title": null}}}}
]
}
